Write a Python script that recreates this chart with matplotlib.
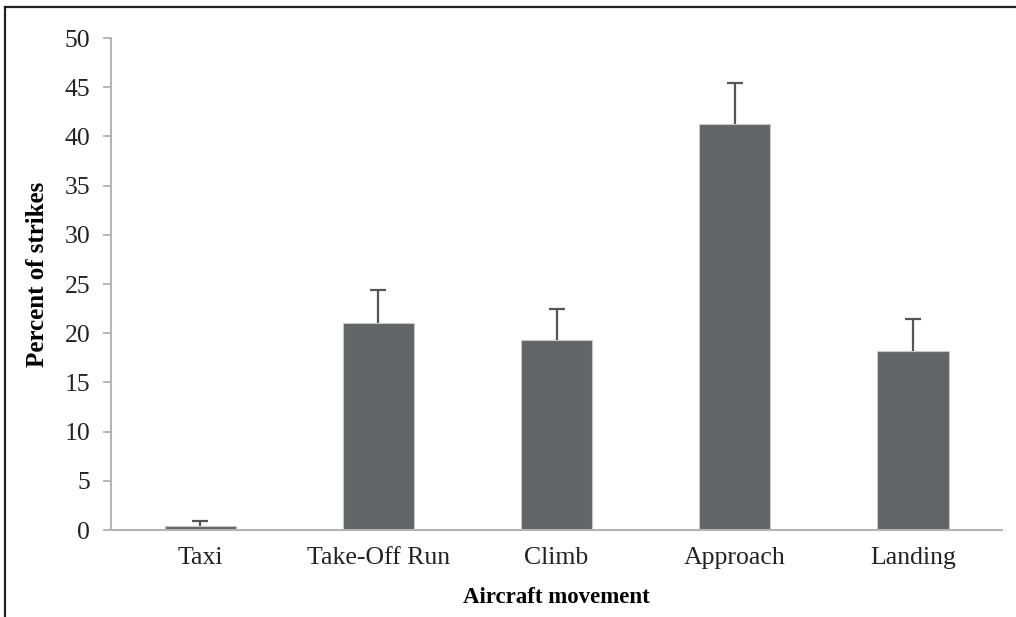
import matplotlib.pyplot as plt
from matplotlib.lines import Line2D

categories = ['Taxi', 'Take-Off Run', 'Climb', 'Approach', 'Landing']
percent = [0.4, 21.0, 19.3, 41.3, 18.2]
error_up = [0.5, 3.4, 3.2, 4.1, 3.2]
y_ticks = [0, 5, 10, 15, 20, 25, 30, 35, 40, 45, 50]

plt.rcParams['font.family'] = ['Liberation Serif', 'DejaVu Serif']

fig = plt.figure(figsize=(10.16, 6.17), dpi=100)
ax = fig.add_axes([0.1093, 0.141, 0.877, 0.7974])

x = list(range(len(categories)))
ax.bar(x, percent, width=0.4, color='#636466', edgecolor='#c8c8c8', linewidth=0.8, zorder=2)

# upper error bars only
eb = ax.errorbar(x, percent, yerr=[[0] * len(error_up), error_up], fmt='none',
                 ecolor='#555558', elinewidth=1.6, capsize=6, capthick=1.6, zorder=3)
eb.lines[1][0].set_visible(False)

ax.set_xlim(-0.5, 4.5)
ax.set_ylim(0, 50)
ax.set_yticks(y_ticks)
ax.set_xticks(x)
ax.set_xticklabels(categories)
ax.tick_params(axis='y', labelsize=18.5, colors='#aaaaaa', labelcolor='#222222',
               length=6, width=1.2, pad=9)
ax.tick_params(axis='x', labelsize=18.5, length=0, labelcolor='#222222', pad=12)

for side in ['top', 'right']:
    ax.spines[side].set_visible(False)
for side in ['left', 'bottom']:
    ax.spines[side].set_color('#b4b4b4')
    ax.spines[side].set_linewidth(1.5)

ax.set_ylabel('Percent of strikes', fontsize=18, fontweight='bold')
ax.yaxis.set_label_coords(-0.07, 0.52)
ax.set_xlabel('Aircraft movement', fontsize=16.5, fontweight='bold', labelpad=13)

# outer frame (top and left edges visible)
fig.add_artist(Line2D([0.005, 1.0], [0.989, 0.989], transform=fig.transFigure,
                      color='#222222', linewidth=1.6))
fig.add_artist(Line2D([0.005, 0.005], [0.0, 0.989], transform=fig.transFigure,
                      color='#222222', linewidth=1.6))

fig.savefig('out.png', dpi=100)
